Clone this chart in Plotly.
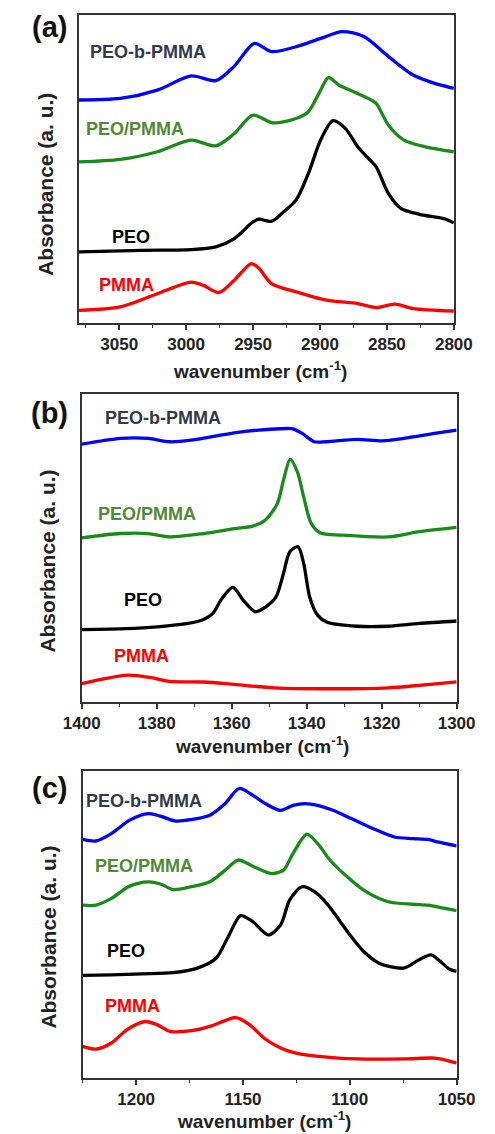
import plotly.graph_objects as go

W, H = 495, 1134

# ---------------- Panel (a): 3080-2800 cm-1 ----------------
a_blue_x = [3080, 3049.1, 3021.5, 2996.2, 2977.8, 2964.0, 2949.0, 2936.3, 2917.9, 2899.5, 2883.4, 2867.2, 2848.8, 2830.4, 2814.3, 2800]
a_blue_y = [72.4, 72.9, 75.6, 80.2, 78.7, 83.4, 90.8, 88.1, 89.7, 92.4, 94.6, 93.0, 86.5, 80.5, 77.8, 76.2]

a_green_x = [3080, 3049.1, 3021.5, 2996.2, 2977.8, 2964.0, 2950.1, 2935.2, 2917.9, 2908.7, 2899.5, 2893.7, 2885.7, 2876.5, 2862.6, 2858.0, 2848.8, 2837.3, 2821.2, 2800]
a_green_y = [52.3, 53.1, 55.6, 59.4, 57.5, 61.5, 67.5, 65.0, 66.4, 68.6, 75.6, 79.7, 77.2, 75.4, 72.6, 71.3, 64.2, 59.4, 57.2, 55.6]

a_black_x = [3080, 3033.0, 2996.2, 2977.8, 2964.0, 2950.1, 2945.5, 2936.3, 2927.1, 2917.9, 2908.7, 2899.5, 2890.3, 2881.1, 2871.8, 2862.6, 2858.0, 2848.8, 2839.6, 2825.8, 2807.4, 2800]
a_black_y = [23.1, 23.6, 23.8, 24.7, 27.4, 32.8, 33.7, 33.0, 36.1, 39.9, 48.5, 59.4, 65.7, 63.2, 57.2, 52.9, 50.7, 42.0, 37.2, 35.3, 33.9, 32.5]

a_red_x = [3080, 3049.1, 3021.5, 2996.2, 2987.0, 2975.5, 2964.0, 2951.3, 2945.5, 2936.3, 2917.9, 2895.0, 2871.8, 2858.0, 2844.2, 2830.4, 2800]
a_red_y = [4.1, 5.2, 9.5, 13.3, 12.2, 9.9, 13.9, 19.3, 17.7, 12.8, 10.1, 7.4, 6.3, 5.0, 6.1, 4.7, 3.9]

# ---------------- Panel (b): 1400-1300 cm-1 ----------------
b_blue_x = [1400, 1389.7, 1382.3, 1376.6, 1370.8, 1359.3, 1352.8, 1345.4, 1343.7, 1341.2, 1338.0, 1334.7, 1326.5, 1319.9, 1314.1, 1305.9, 1300]
b_blue_y = [83.7, 85.6, 85.6, 84.5, 85.0, 87.4, 88.3, 88.8, 88.7, 87.2, 84.5, 84.5, 85.3, 84.8, 85.6, 87.2, 88.3]

b_green_x = [1400, 1389.7, 1382.3, 1376.6, 1367.5, 1359.3, 1354.4, 1351.1, 1347.8, 1346.2, 1344.4, 1342.5, 1340.8, 1338.8, 1336.3, 1330.6, 1318.2, 1310.0, 1300]
b_green_y = [53.3, 54.7, 54.7, 53.6, 54.7, 56.3, 57.1, 59.0, 64.5, 72.0, 78.8, 74.8, 66.6, 58.0, 54.9, 54.2, 53.6, 55.3, 56.7]

b_black_x = [1400, 1388.1, 1379.9, 1371.7, 1367.5, 1365.1, 1362.6, 1359.7, 1356.9, 1353.7, 1351.1, 1348.2, 1346.2, 1344.5, 1342.3, 1340.8, 1339.2, 1337.1, 1334.7, 1326.5, 1318.2, 1310.0, 1300]
b_black_y = [23.5, 23.8, 24.4, 25.5, 26.8, 28.7, 33.6, 37.2, 33.0, 29.3, 30.7, 34.1, 41.7, 48.8, 50.4, 45.0, 34.1, 28.2, 26.0, 24.6, 24.6, 25.5, 26.3]

b_red_x = [1400, 1393.8, 1387.7, 1381.5, 1376.6, 1367.5, 1359.3, 1348.6, 1334.7, 1318.2, 1310.0, 1300]
b_red_y = [6.0, 7.6, 8.7, 7.9, 6.7, 6.5, 5.7, 4.6, 4.3, 4.6, 5.4, 6.5]

# ---------------- Panel (c): 1225-1050 cm-1 ----------------
c_blue_x = [1225, 1218.8, 1211.6, 1203.0, 1194.3, 1188.6, 1181.4, 1174.2, 1165.5, 1158.3, 1151.8, 1145.4, 1139.6, 1132.4, 1126.6, 1120.9, 1115.1, 1107.9, 1099.3, 1089.2, 1079.1, 1070.5, 1063.3, 1059.0, 1050]
c_blue_y = [77.7, 77.2, 79.6, 84.0, 86.1, 85.3, 83.7, 84.2, 85.6, 89.4, 94.3, 92.1, 89.4, 87.2, 88.8, 89.4, 88.8, 87.2, 84.5, 81.3, 78.5, 78.0, 77.7, 76.9, 75.6]

c_green_x = [1225, 1218.8, 1211.6, 1203.0, 1194.3, 1188.6, 1182.8, 1174.2, 1165.5, 1158.3, 1152.3, 1145.4, 1136.7, 1131.0, 1126.6, 1120.1, 1115.1, 1109.3, 1102.1, 1093.5, 1082.0, 1070.5, 1063.3, 1056.1, 1050]
c_green_y = [56.3, 56.3, 58.5, 62.5, 63.9, 63.2, 61.4, 62.3, 63.9, 67.7, 71.0, 69.0, 66.6, 67.7, 73.1, 79.4, 76.4, 71.0, 66.1, 61.2, 57.4, 56.6, 56.3, 55.3, 54.5]

c_black_x = [1225, 1211.6, 1197.2, 1182.8, 1171.3, 1162.6, 1156.9, 1151.1, 1145.4, 1138.2, 1132.4, 1128.1, 1122.3, 1116.5, 1110.8, 1105.0, 1099.3, 1093.5, 1086.3, 1074.8, 1067.6, 1061.9, 1057.5, 1053.2, 1050]
c_black_y = [33.4, 33.6, 33.9, 34.3, 35.8, 39.0, 46.0, 52.9, 50.9, 46.6, 49.8, 58.0, 62.3, 60.7, 56.9, 51.5, 46.0, 41.2, 37.4, 35.8, 38.5, 40.1, 37.9, 35.4, 34.7]

c_red_x = [1225, 1218.8, 1211.6, 1204.4, 1195.8, 1190.0, 1184.2, 1174.2, 1165.5, 1158.3, 1153.3, 1146.8, 1139.6, 1132.4, 1125.2, 1110.8, 1096.4, 1074.8, 1060.4, 1056.1, 1050]
c_red_y = [10.3, 9.4, 11.4, 15.7, 18.4, 17.3, 15.2, 15.4, 16.8, 18.7, 19.7, 17.3, 12.7, 9.8, 8.1, 6.8, 6.2, 6.2, 6.5, 6.0, 4.9]

series_names = ["PEO-b-PMMA", "PEO/PMMA", "PEO", "PMMA"]
line_colors = ["#0000ff", "#1b8a1b", "#000000", "#ff0000"]
label_colors = ["#2f3a4c", "#4f8a35", "#000000", "#ff0000"]

panels = [
    dict(letter="(a)", data=[(a_blue_x, a_blue_y), (a_green_x, a_green_y), (a_black_x, a_black_y), (a_red_x, a_red_y)],
         xrange=[3080, 2800], dtick=50, minor=25,
         labels=[(3028.4, 88.1), (3038.1, 62.9), (3041.1, 28.0), (3044.5, 12.2)]),
    dict(letter="(b)", data=[(b_blue_x, b_blue_y), (b_green_x, b_green_y), (b_black_x, b_black_y), (b_red_x, b_red_y)],
         xrange=[1400, 1300], dtick=20, minor=10,
         labels=[(1378.2, 92.3), (1382.5, 61.2), (1383.6, 33.0), (1384.1, 15.0)]),
    dict(letter="(c)", data=[(c_blue_x, c_blue_y), (c_green_x, c_green_y), (c_black_x, c_black_y), (c_red_x, c_red_y)],
         xrange=[1225, 1050], dtick=50, minor=25,
         labels=[(1196.5, 90.2), (1196.5, 69.0), (1204.7, 41.5), (1201.5, 23.3)]),
]

# pixel boxes (left, right, top, bottom)
boxes = [(65, 471, 15, 323), (68, 474, 394, 702), (69, 474, 771, 1078)]
ytitle_pos = [(28, 184), (31, 561), (31, 937)]
xtitle_pos = [(261, 370), (263, 745), (265, 1120)]
letter_pos = [(33, 27), (33, 413), (33, 788)]

FONT = "Liberation Sans, Arial, sans-serif"

fig = go.Figure()
annotations = []
layout_axes = {}

for i, p in enumerate(panels):
    n = i + 1
    xa = "x" if n == 1 else f"x{n}"
    ya = "y" if n == 1 else f"y{n}"
    for (xs, ys), name, col in zip(p["data"], series_names, line_colors):
        fig.add_trace(go.Scatter(x=xs, y=ys, mode="lines", name=name,
                                 line=dict(color=col, width=3.3, shape="spline", smoothing=0.8),
                                 xaxis=xa, yaxis=ya, showlegend=False))
    for (lx, ly), name, lc in zip(p["labels"], series_names, label_colors):
        annotations.append(dict(x=lx, y=ly, xref=xa, yref=ya, text=f"<b>{name}</b>", showarrow=False,
                                font=dict(family=FONT, size=18, color=lc), xanchor="center", yanchor="middle"))
    l, r, t, b = boxes[i]
    layout_axes[f"xaxis{'' if n == 1 else n}"] = dict(
        domain=[l / W, r / W], anchor=ya, range=p["xrange"], showgrid=False, zeroline=False,
        showline=True, mirror=True, linecolor="#333333", linewidth=1.6,
        ticks="outside", ticklen=5, tickwidth=1.5, tickcolor="#333333", dtick=p["dtick"],
        tickfont=dict(family=FONT, size=17, color="#222222", weight="bold"),
        minor=dict(dtick=p["minor"], ticks="outside", ticklen=3, tickwidth=1.2, tickcolor="#333333"),
    )
    layout_axes[f"yaxis{'' if n == 1 else n}"] = dict(
        domain=[1 - b / H, 1 - t / H], anchor=xa, range=[0, 100], showgrid=False, zeroline=False,
        showline=True, mirror=True, linecolor="#333333", linewidth=1.6,
        showticklabels=False, ticks="",
    )
    yx, yy = ytitle_pos[i]
    annotations.append(dict(x=yx / W, y=1 - yy / H, xref="paper", yref="paper", text="<b>Absorbance (a. u.)</b>",
                            textangle=-90, showarrow=False, font=dict(family=FONT, size=21, color="#222222"),
                            xanchor="center", yanchor="middle"))
    xx, xy = xtitle_pos[i]
    annotations.append(dict(x=xx / W, y=1 - xy / H, xref="paper", yref="paper",
                            text="<b>wavenumber (cm<sup>-1</sup>)</b>", showarrow=False,
                            font=dict(family=FONT, size=19, color="#222222"), xanchor="center", yanchor="middle"))
    lx, ly = letter_pos[i]
    annotations.append(dict(x=lx / W, y=1 - ly / H, xref="paper", yref="paper", text=f"<b>{p['letter']}</b>",
                            showarrow=False, font=dict(family=FONT, size=29, color="#111111"),
                            xanchor="center", yanchor="middle"))

fig.update_layout(
    width=W, height=H, margin=dict(l=0, r=0, t=0, b=0),
    paper_bgcolor="white", plot_bgcolor="white",
    annotations=annotations, **layout_axes,
)

fig.write_html("out.html")
